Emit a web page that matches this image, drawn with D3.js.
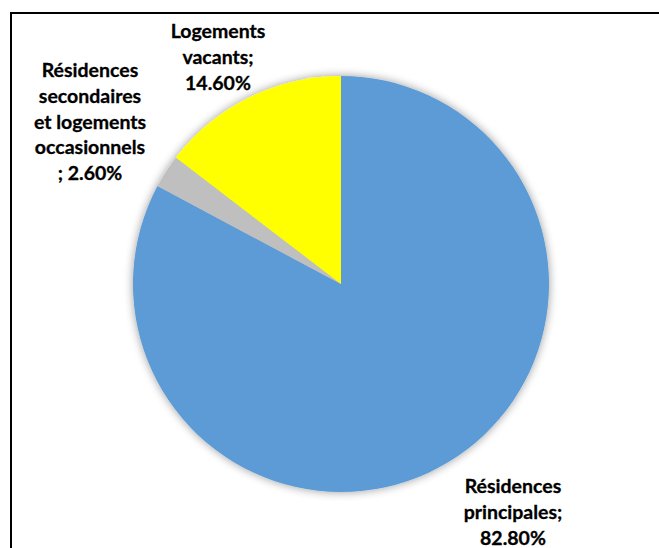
<!DOCTYPE html>
<html><head><meta charset="utf-8">
<script src="https://cdn.jsdelivr.net/npm/d3@7"></script>
<style>html,body{margin:0;padding:0;background:#fff;}svg{display:block;}</style>
</head><body>
<script>
const categories = ["Résidences principales", "Résidences secondaires et logements occasionnels", "Logements vacants"];
const values = [82.8, 2.6, 14.6];
const colors = ["#5B9BD5", "#BFBFBF", "#FFFF00"];
const labelLines = [
  ["Résidences", "principales;", "82.80%"],
  ["Résidences", "secondaires", "et logements", "occasionnels", "; 2.60%"],
  ["Logements", "vacants;", "14.60%"]
];

const W = 659, H = 548;
const cx = 341, cy = 284, R = 208;
const svg = d3.select("body").append("svg").attr("width", W).attr("height", H);

svg.append("rect").attr("x", 11).attr("y", 13).attr("width", W + 10).attr("height", H + 10)
  .attr("fill", "#fff").attr("stroke", "#000").attr("stroke-width", 2);

const defs = svg.append("defs");
const f = defs.append("filter").attr("id", "glow").attr("x", "-20%").attr("y", "-20%").attr("width", "140%").attr("height", "140%");
f.append("feGaussianBlur").attr("in", "SourceAlpha").attr("stdDeviation", 5).attr("result", "b");
f.append("feComponentTransfer").attr("in", "b").attr("result", "c")
  .append("feFuncA").attr("type", "linear").attr("slope", 0.4);
const m = f.append("feMerge");
m.append("feMergeNode").attr("in", "c");
m.append("feMergeNode").attr("in", "SourceGraphic");

const pie = d3.pie().sort(null).value(d => d)(values);
const arc = d3.arc().innerRadius(0).outerRadius(R);

const g = svg.append("g").attr("transform", `translate(${cx},${cy})`);
g.append("g").attr("filter", "url(#glow)")
  .selectAll("path").data(pie).enter().append("path")
  .attr("d", arc).attr("fill", (d, i) => colors[i]);

const labelPos = [[513, 493], [90, 77], [218, 38]];
const lh = 25.8;
labelLines.forEach((lines, i) => {
  const t = svg.append("text").attr("text-anchor", "middle")
    .attr("font-family", "Lato, 'Open Sans', sans-serif").attr("font-weight", "bold")
    .attr("font-size", 19.5).attr("fill", "#000")
    .attr("stroke", "#000").attr("stroke-width", 0.3);
  lines.forEach((ln, j) => {
    t.append("tspan").attr("x", labelPos[i][0]).attr("y", labelPos[i][1] + j * lh).text(ln);
  });
});
</script>
</body></html>
